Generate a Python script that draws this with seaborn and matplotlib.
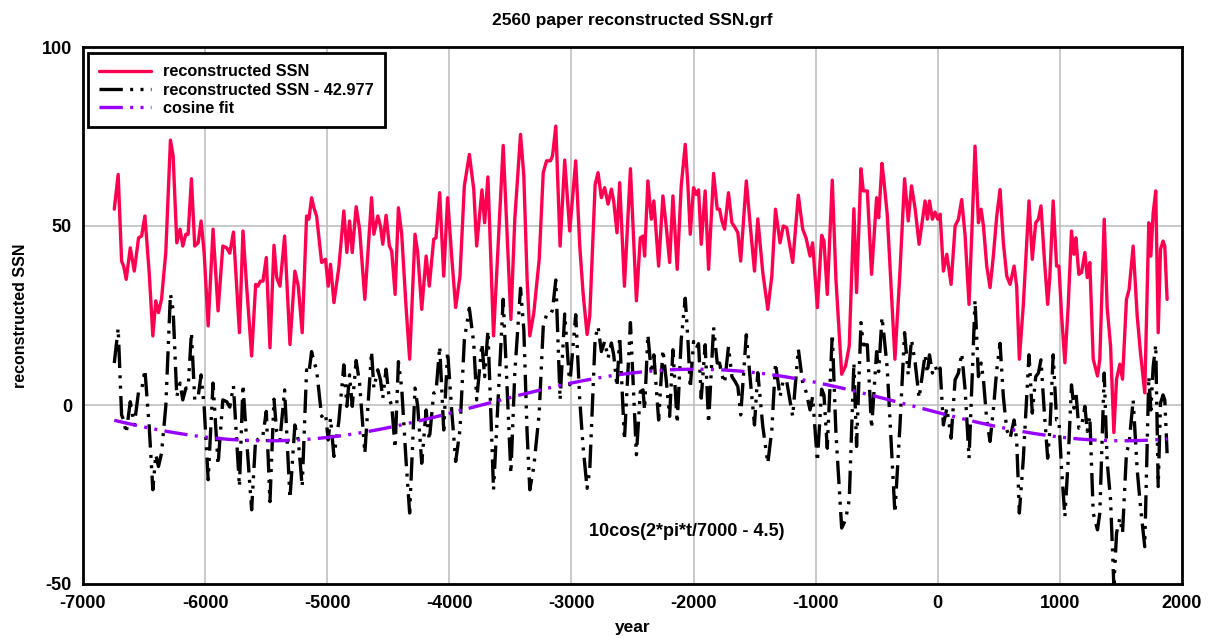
import numpy as np
import pandas as pd
import matplotlib
matplotlib.use("Agg")
import matplotlib.pyplot as plt
import seaborn as sns

# Reconstructed sunspot number (year, SSN)
years = [
    -6744, -6712, -6684, -6667, -6646, -6613, -6580, -6545, -6520, -6493,
    -6458, -6428, -6404, -6382, -6357, -6322, -6284, -6262, -6232, -6205,
    -6183, -6158, -6139, -6112, -6085, -6057, -6033, -6008, -5975, -5935,
    -5894, -5855, -5823, -5798, -5768, -5719,
    -5690, -5662, -5619, -5586, -5567, -5548, -5526, -5499, -5469, -5436,
    -5414, -5387, -5349, -5305, -5265, -5237, -5205, -5169, -5150, -5128,
    -5109, -5087, -5046, -5014, -4992, -4973, -4945, -4905, -4864, -4839,
    -4817, -4795, -4763, -4735, -4692, -4637, -4618,
    -4586, -4564, -4545, -4518, -4491, -4472, -4444, -4417, -4390, -4355,
    -4325, -4281, -4259, -4226, -4190, -4164, -4128, -4109, -4079, -4046,
    -4014, -3981, -3948, -3913, -3877, -3836, -3800, -3776, -3733, -3711,
    -3684, -3638, -3559, -3520, -3496,
    -3464, -3417, -3390, -3363, -3341, -3308, -3264, -3231, -3204, -3172,
    -3155, -3128, -3093, -3055, -3014, -2965, -2932, -2905, -2872, -2850,
    -2806, -2782, -2755, -2728, -2700, -2673, -2654, -2627, -2605, -2566,
    -2517, -2468, -2436, -2414,
    -2401, -2374, -2346, -2325, -2286, -2251, -2224, -2196, -2169, -2134,
    -2101, -2068, -2046, -2027, -2000, -1978, -1959, -1937, -1905, -1877,
    -1836, -1806, -1787, -1768, -1746, -1714, -1686, -1659, -1637, -1614,
    -1568, -1533, -1501, -1474, -1433, -1392, -1359, -1329,
    -1292, -1265, -1237, -1188, -1142, -1106, -1079, -1046, -1025, -986,
    -951, -932, -905, -864, -834, -787, -755, -725, -687, -665,
    -629, -610, -577, -542, -501, -484, -457, -441, -414, -351,
    -310, -272, -242, -215,
    -185, -153, -125, -104, -85, -68, -44, -22, 0, 19,
    46, 74, 109, 142, 169, 196, 224, 256, 284, 305,
    333, 355, 374, 401, 428, 455, 483, 510, 537, 565,
    592, 625, 646, 668, 700, 747, 774, 802, 824, 845,
    873, 900,
    918, 945, 973, 992, 1014, 1041, 1068, 1095, 1115, 1131,
    1155, 1177, 1205, 1224, 1245, 1273, 1308, 1327, 1363, 1387,
    1415, 1442, 1464, 1491, 1513, 1545, 1567, 1600, 1633, 1660,
    1695, 1728, 1745, 1764, 1785, 1805, 1824, 1845, 1859, 1878,
]
ssn = [
    54.7, 64.4, 40.2, 38.8, 35.1, 43.9, 37.4, 46.7, 47.2, 52.8,
    37.0, 19.3, 29.1, 25.8, 29.5, 42.6, 74.0, 69.6, 45.3, 49.1,
    44.4, 47.7, 47.7, 63.2, 44.4, 45.3, 51.4, 42.6, 22.1, 49.1,
    26.3, 44.4, 43.9, 42.4, 48.3, 20.2,
    48.6, 34.2, 13.7, 33.7, 33.2, 34.6, 34.6, 41.2, 16.0, 44.6,
    35.6, 33.2, 47.2, 16.9, 37.4, 33.2, 20.2, 52.8, 51.9, 57.9,
    55.1, 52.8, 39.8, 40.7, 33.2, 39.3, 28.6, 38.4, 54.2, 42.6,
    51.4, 42.6, 55.4, 49.1, 29.5, 57.9, 47.7,
    52.8, 50.0, 44.9, 53.0, 44.4, 43.0, 30.9, 55.1, 47.7, 27.7,
    12.8, 47.7, 42.6, 26.7, 41.6, 33.2, 46.3, 46.7, 59.3, 36.0,
    57.9, 41.6, 27.2, 36.0, 61.2, 70.0, 60.2, 44.4, 60.1, 50.9,
    63.7, 19.3, 72.5, 42.6, 23.9,
    51.9, 75.6, 64.0, 35.1, 19.3, 25.8, 40.7, 64.9, 68.2, 68.2,
    69.6, 77.9, 44.4, 68.4, 48.6, 68.2, 44.4, 31.4, 19.7, 24.9,
    61.6, 64.9, 57.9, 60.7, 56.1, 60.3, 57.0, 48.1, 62.1, 33.2,
    66.0, 29.1, 46.7, 47.2,
    41.6, 62.6, 51.9, 57.0, 38.8, 58.4, 50.0, 39.8, 58.4, 37.9,
    61.2, 72.8, 61.2, 47.7, 60.7, 58.8, 60.1, 44.9, 59.8, 37.9,
    64.7, 54.7, 54.7, 51.4, 49.1, 59.3, 50.9, 49.5, 48.1, 40.2,
    62.6, 49.1, 37.4, 52.0, 37.0, 26.7, 36.0, 54.7,
    45.3, 50.0, 49.5, 39.8, 58.6, 49.1, 46.7, 41.6, 45.3, 27.2,
    47.4, 45.8, 30.9, 62.8, 35.1, 8.6, 10.9, 16.5, 54.8, 31.4,
    66.0, 59.8, 59.8, 36.5, 57.9, 52.3, 67.5, 62.6, 53.3, 12.8,
    37.0, 63.2, 51.4, 61.2,
    54.7, 44.9, 51.9, 57.0, 51.9, 57.0, 51.9, 53.9, 51.9, 53.3,
    37.4, 42.1, 33.7, 50.0, 51.9, 57.4, 47.2, 28.1, 52.8, 72.3,
    50.9, 54.7, 50.0, 38.8, 32.8, 41.6, 52.8, 60.2, 45.3, 36.0,
    33.7, 38.8, 33.2, 12.8, 27.7, 57.0, 40.7, 50.9, 51.9, 55.6,
    40.7, 28.1,
    36.0, 57.0, 38.8, 38.8, 24.9, 11.8, 27.7, 48.6, 42.1, 46.7,
    36.5, 37.0, 42.6, 35.6, 39.8, 12.8, 8.1, 12.8, 51.9, 27.2,
    16.5, -7.7, 7.2, 11.4, 7.2, 29.5, 32.3, 44.4, 24.9, 14.6,
    3.4, 50.9, 41.6, 53.7, 59.8, 20.2, 43.5, 45.8, 44.4, 29.5,
]

# Offset removed from the reconstruction and the cosine fit parameters
OFFSET = 42.977
FIT_AMP = 10
FIT_PERIOD = 7000
FIT_PHASE = 4.5

x_ticks = [-7000, -6000, -5000, -4000, -3000, -2000, -1000, 0, 1000, 2000]
y_ticks = [-50, 0, 50, 100]

df = pd.DataFrame({"year": years, "ssn": ssn})
df["shifted"] = df["ssn"] - OFFSET
df["fit"] = FIT_AMP * np.cos(2 * np.pi * df["year"] / FIT_PERIOD - FIT_PHASE)

sns.set_theme(style="whitegrid")
plt.rcParams["font.family"] = ["Liberation Sans", "DejaVu Sans"]
plt.rcParams["font.weight"] = "bold"
plt.rcParams["axes.labelweight"] = "bold"
plt.rcParams["text.color"] = "black"
plt.rcParams["axes.labelcolor"] = "black"
plt.rcParams["xtick.color"] = "black"
plt.rcParams["ytick.color"] = "black"

RED = "#FF0050"
PURPLE = "#9900FF"
DASH_DOT_DOT = (0, (7, 2.2, 0.9, 2.2, 0.9, 2.2))

fig = plt.figure(figsize=(12.09, 6.41), dpi=100)
fig.patch.set_facecolor("white")
ax = fig.add_axes([83 / 1209, 57 / 641, 1099 / 1209, 537 / 641])

sns.lineplot(data=df, x="year", y="ssn", ax=ax, color=RED, linewidth=2.4,
             estimator=None, sort=False, label="reconstructed SSN")
sns.lineplot(data=df, x="year", y="shifted", ax=ax, color="black", linewidth=2.4,
             estimator=None, sort=False, linestyle=DASH_DOT_DOT,
             label=f"reconstructed SSN - {OFFSET}")
sns.lineplot(data=df, x="year", y="fit", ax=ax, color=PURPLE, linewidth=2.4,
             estimator=None, sort=False, linestyle=DASH_DOT_DOT,
             label="cosine fit")

ax.set_xlim(-7000, 2000)
ax.set_ylim(-50, 100)
ax.set_xticks(x_ticks)
ax.set_yticks(y_ticks)
ax.set_xticklabels([str(v) for v in x_ticks])
ax.set_yticklabels([str(v) for v in y_ticks])
ax.tick_params(axis="both", length=0, labelsize=13, pad=8, colors="black")
for lab in ax.get_xticklabels() + ax.get_yticklabels():
    lab.set_fontweight("bold")
    lab.set_color("black")

ax.grid(True, color="#c0c0c0", linewidth=1.2)
ax.set_facecolor("white")
for sp in ax.spines.values():
    sp.set_color("black")
    sp.set_linewidth(2)

ax.set_title("2560 paper reconstructed SSN.grf", fontsize=12.5, fontweight="bold",
             pad=16, color="black")
ax.set_xlabel("year", fontsize=12.5, fontweight="bold", labelpad=6, color="black")
ax.set_ylabel("reconstructed SSN", fontsize=11.5, fontweight="bold", labelpad=10,
              color="black")

ax.text(-2052, -35.3, f"{FIT_AMP}cos(2*pi*t/{FIT_PERIOD} - {FIT_PHASE})",
        ha="center", va="center", fontsize=13, fontweight="bold", color="black")

leg = ax.legend(loc="upper left", bbox_to_anchor=(0.0045, 0.989), borderaxespad=0,
                fontsize=11.7, handlelength=3.2, handletextpad=0.7,
                labelspacing=0.2, borderpad=0.7, fancybox=False,
                framealpha=1, edgecolor="black")
leg.get_frame().set_linewidth(2)
for t in leg.get_texts():
    t.set_fontweight("bold")
    t.set_color("black")

fig.savefig("out.png", dpi=100, facecolor="white")
